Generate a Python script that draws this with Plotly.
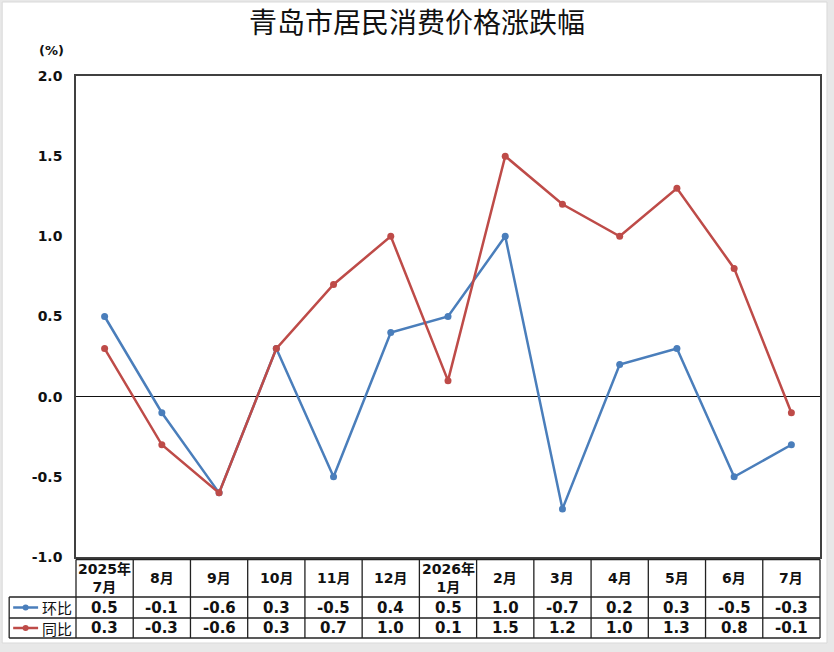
import plotly.graph_objects as go

# data
months = ['2025年<br>7月', '8月', '9月', '10月', '11月', '12月', '2026年<br>1月',
          '2月', '3月', '4月', '5月', '6月', '7月']
mom = [0.5, -0.1, -0.6, 0.3, -0.5, 0.4, 0.5, 1.0, -0.7, 0.2, 0.3, -0.5, -0.3]   # 环比
yoy = [0.3, -0.3, -0.6, 0.3, 0.7, 1.0, 0.1, 1.5, 1.2, 1.0, 1.3, 0.8, -0.1]      # 同比
series = [('环比', mom, '#4a7ebb'), ('同比', yoy, '#be4b48')]
y_ticks = [-1.0, -0.5, 0.0, 0.5, 1.0, 1.5, 2.0]

W, H = 834, 652
L, R, T, B = 76, 822, 76, 557  # plot area in pixels

def px(x):
    return (x - L) / (R - L)

def py(y):
    return (B - y) / (B - T)

fig = go.Figure()
for name, vals, col in series:
    fig.add_trace(go.Scatter(
        x=list(range(len(months))), y=vals, mode='lines+markers', name=name,
        line=dict(color=col, width=2.5),
        marker=dict(color=col, size=7),
        showlegend=False
    ))

shapes = []
# outer white frame on gray background
shapes.append(dict(type='rect', xref='paper', yref='paper', layer='below',
                   x0=px(2), x1=px(829), y0=py(2), y1=py(643),
                   fillcolor='white', line=dict(color='#d9d9d9', width=1)))

# data table lines
tcol = '#222222'
colw = (R - L) / len(months)
hl = [(L, 559.5), (9, 597), (9, 618), (9, 638)]
for x0, y in hl:
    shapes.append(dict(type='line', xref='paper', yref='paper',
                       x0=px(x0), x1=px(R), y0=py(y), y1=py(y),
                       line=dict(color=tcol, width=1.3)))
for i in range(len(months) + 1):
    xx = L + i * colw
    shapes.append(dict(type='line', xref='paper', yref='paper',
                       x0=px(xx), x1=px(xx), y0=py(559.5), y1=py(638),
                       line=dict(color=tcol, width=1.3)))
shapes.append(dict(type='line', xref='paper', yref='paper',
                   x0=px(9), x1=px(9), y0=py(597), y1=py(638),
                   line=dict(color=tcol, width=1.3)))

annotations = []
# legend glyphs inside table
row_y = [607.5, 628]
for (name, vals, col), ry in zip(series, row_y):
    shapes.append(dict(type='line', xref='paper', yref='paper',
                       x0=px(13), x1=px(38), y0=py(ry), y1=py(ry),
                       line=dict(color=col, width=2.5)))
    shapes.append(dict(type='circle', xref='paper', yref='paper',
                       x0=px(22.5), x1=px(28.5), y0=py(ry - 3), y1=py(ry + 3),
                       fillcolor=col, line=dict(color=col, width=0)))
    annotations.append(dict(x=px(57), y=py(ry), xref='paper', yref='paper',
                            text=name, showarrow=False, xanchor='center', yanchor='middle',
                            font=dict(family='Noto Sans CJK SC', size=15, color='#111111')))
    for i, v in enumerate(vals):
        annotations.append(dict(x=i, y=py(ry), xref='x', yref='paper',
                                text='<b>%.1f</b>' % v, showarrow=False,
                                xanchor='center', yanchor='middle',
                                font=dict(family='DejaVu Sans', size=15, color='#111111')))

for i, m in enumerate(months):
    annotations.append(dict(x=i, y=py(578), xref='x', yref='paper',
                            text='<b>%s</b>' % m, showarrow=False,
                            xanchor='center', yanchor='middle',
                            font=dict(family='DejaVu Sans, Noto Sans CJK SC', size=14, color='#111111')))

annotations.append(dict(x=px(51), y=py(50), xref='paper', yref='paper',
                        text='<b>(%)</b>', showarrow=False, xanchor='center', yanchor='middle',
                        font=dict(family='DejaVu Sans', size=13, color='#111111')))

fig.update_layout(
    width=W, height=H,
    margin=dict(l=L, r=W - R, t=T, b=H - B),
    paper_bgcolor='#e8e8e8',
    plot_bgcolor='white',
    title=dict(text='青岛市居民消费价格涨跌幅', x=0.5, xanchor='center',
               y=1 - 23 / H, yanchor='middle',
               font=dict(family='Noto Sans CJK SC', size=28, color='#111111')),
    shapes=shapes,
    annotations=annotations,
    showlegend=False,
)
fig.update_xaxes(range=[-0.5, len(months) - 0.5], showticklabels=False, showgrid=False,
                 zeroline=False, showline=True, mirror=True, linecolor='#404040', linewidth=1.5)
fig.update_yaxes(range=[-1.0, 2.0], tickvals=y_ticks, ticktext=['<b>%.1f</b>' % v for v in y_ticks],
                 showgrid=False, zeroline=True, zerolinecolor='#111111', zerolinewidth=1,
                 showline=True, mirror=True, linecolor='#404040', linewidth=1.5,
                 ticks='', ticklabelstandoff=9,
                 tickfont=dict(family='DejaVu Sans', size=14, color='#111111'))

# the page body has a default 8px margin; drop it so the figure fills the window
fig.write_html('out.html', config={'displayModeBar': False},
               post_script="document.body.style.margin='0px';")
